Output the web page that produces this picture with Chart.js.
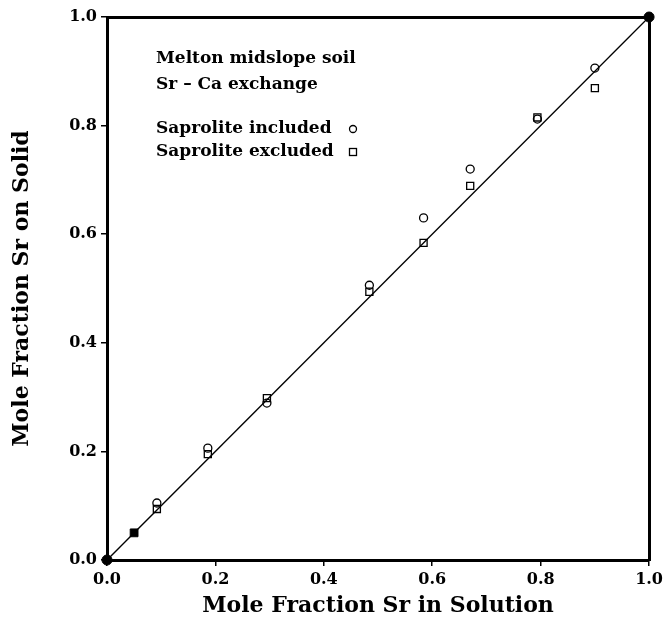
<!DOCTYPE html>
<html>
<head>
<meta charset="utf-8">
<script src="https://cdn.jsdelivr.net/npm/chart.js@4.4.1/dist/chart.umd.min.js"></script>
<style>
    html, body { margin: 0; padding: 0; background: #fff; }
    #wrap { width: 667px; height: 623px; }
</style>
</head>
<body>
<div id="wrap"><canvas id="chart"></canvas></div>
<script>
// ===== Data =====
const includedX = [0.092, 0.186, 0.295, 0.484, 0.584, 0.670, 0.794, 0.900];
const includedY = [0.105, 0.206, 0.289, 0.506, 0.630, 0.720, 0.812, 0.906];
const excludedX = [0.092, 0.186, 0.295, 0.484, 0.584, 0.670, 0.794, 0.900];
const excludedY = [0.094, 0.195, 0.298, 0.494, 0.584, 0.689, 0.815, 0.869];
const endX = [0, 1];
const endY = [0, 1];
const lowX = [0.05];
const lowY = [0.05];
const lineX = [0, 1];
const lineY = [0, 1];
const tickVals = [0, 0.2, 0.4, 0.6, 0.8, 1.0];
const noteLines = ["Melton midslope soil", "Sr \u2013 Ca exchange", "Saprolite included", "Saprolite excluded"];

const pts = (xs, ys) => xs.map((x, i) => ({ x, y: ys[i] }));
const SERIF = "'DejaVu Serif', 'Liberation Serif', serif";

// ===== Notes inside the plot =====
const notesPlugin = {
    id: 'notes',
    afterDraw(chart) {
        const ctx = chart.ctx;
        const left = 156;
        const rows = [59, 85, 129, 152];
        ctx.save();
        ctx.fillStyle = '#000';
        ctx.strokeStyle = '#000';
        ctx.textBaseline = 'middle';
        ctx.textAlign = 'left';
        ctx.font = 'bold 17px ' + SERIF;
        noteLines.forEach((t, i) => ctx.fillText(t, left, rows[i]));
        // legend symbols
        ctx.lineWidth = 1.3;
        ctx.beginPath();
        ctx.arc(353, rows[2], 3.5, 0, Math.PI * 2);
        ctx.stroke();
        ctx.strokeRect(349.5, rows[3] - 3.5, 7, 7);
        ctx.restore();
    }
};

// ===== Scales =====
const tickFont = { family: SERIF, size: 16, weight: 'bold' };
const titleFont = { family: SERIF, size: 22, weight: 'bold' };

const frameScale = (pos, size) => ({
    type: 'linear', position: pos, min: 0, max: 1,
    ticks: { display: false },
    grid: { display: false },
    border: { display: true, color: '#000', width: 3 },
    afterFit: s => {
        if (pos === 'top') s.height = size; else s.width = size;
    }
});

new Chart(document.getElementById('chart'), {
    type: 'scatter',
    data: {
        datasets: [
            {
                type: 'line', data: pts(lineX, lineY), borderColor: '#000', borderWidth: 1.4,
                pointRadius: 0, fill: false
            },
            {
                data: pts(includedX, includedY), pointStyle: 'circle', pointRadius: 4,
                borderColor: '#000', borderWidth: 1.3, backgroundColor: 'rgba(0,0,0,0)'
            },
            {
                data: pts(excludedX, excludedY), pointStyle: 'rect', pointRadius: 5,
                borderColor: '#000', borderWidth: 1.3, backgroundColor: 'rgba(0,0,0,0)'
            },
            {
                data: pts(endX, endY), pointStyle: 'circle', pointRadius: 5,
                borderColor: '#000', backgroundColor: '#000', clip: false
            },
            {
                data: pts(lowX, lowY), pointStyle: 'rect', pointRadius: 5.5,
                borderColor: '#000', backgroundColor: '#000'
            }
        ]
    },
    options: {
        responsive: true,
        maintainAspectRatio: false,
        animation: false,
        layout: { padding: 0 },
        plugins: { legend: { display: false }, tooltip: { enabled: false } },
        scales: {
            x: {
                type: 'linear', position: 'bottom', min: 0, max: 1,
                afterBuildTicks: s => { s.ticks = tickVals.map(v => ({ value: v })); },
                ticks: { color: '#000', font: tickFont, padding: 4, callback: v => v.toFixed(1) },
                grid: { drawOnChartArea: false, tickLength: 6, color: '#000', lineWidth: 1.5 },
                border: { display: true, color: '#000', width: 3 },
                title: { display: true, text: 'Mole Fraction Sr in Solution', color: '#000', font: titleFont, padding: { top: 0, bottom: 4 } },
                afterFit: s => { s.height = 63; }
            },
            y: {
                type: 'linear', position: 'left', min: 0, max: 1,
                afterBuildTicks: s => { s.ticks = tickVals.map(v => ({ value: v })); },
                ticks: { color: '#000', font: tickFont, padding: 4, callback: v => v.toFixed(1) },
                grid: { drawOnChartArea: false, tickLength: 6, color: '#000', lineWidth: 1.5 },
                border: { display: true, color: '#000', width: 3 },
                title: { display: true, text: 'Mole Fraction Sr on Solid', color: '#000', font: titleFont, padding: { top: 9, bottom: 0 } },
                afterFit: s => { s.width = 107; }
            },
            x2: frameScale('top', 17),
            y2: frameScale('right', 17)
        }
    },
    plugins: [notesPlugin]
});
</script>
</body>
</html>
